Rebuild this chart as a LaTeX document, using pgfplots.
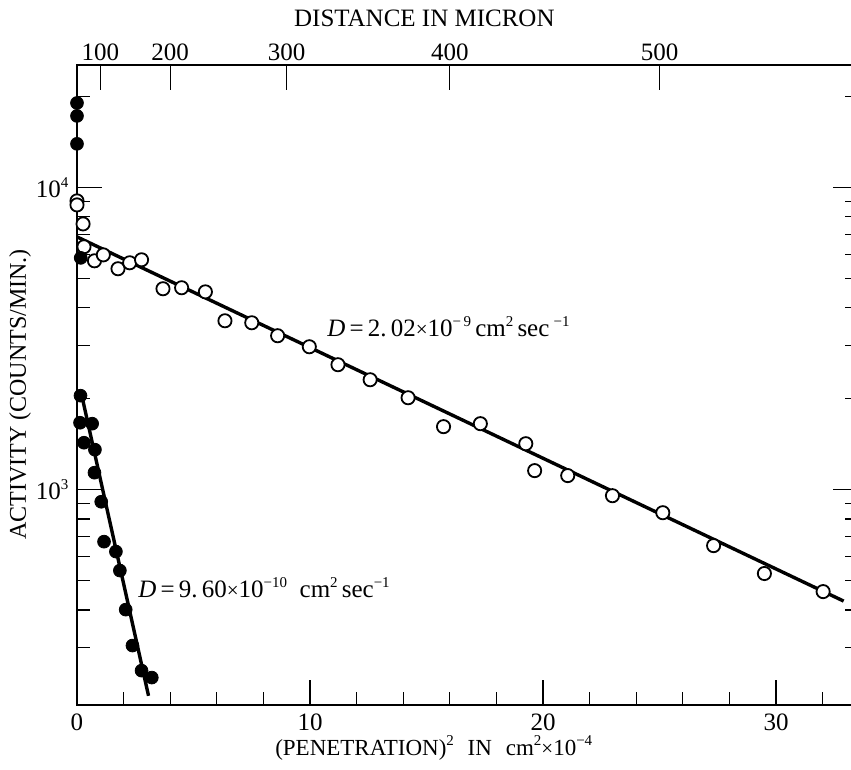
\documentclass[border=0pt]{standalone}
\usepackage{fontspec}
\setmainfont{Liberation Serif}
\usepackage{pgfplots}
\pgfplotsset{compat=1.18}
% small raised superscript, as in the printed figure
\newcommand\sx[1]{\raisebox{0.4em}{\fontsize{7.5}{8}\selectfont #1}}
\newcommand\tms{{\fontsize{10.5}{10}\selectfont ×}}

\begin{document}
\fontsize{12.5}{15}\selectfont
\begin{tikzpicture}
% main axis: penetration squared vs activity
\begin{axis}[at={(0,0)}, anchor=south west,
  scale only axis, width=390.3pt, height=320pt,
  xmin=0, xmax=33.5, ymode=log, ymin=194, ymax=25400,
  axis line style={line width=1pt},
  tick style={black, line width=0.6pt},
  tick align=inside,
  major tick length=12.5pt, minor tick length=6.5pt,
  clip=false,
  xtick={0,10,20,30}, xticklabels={0,10,20,30},
  minor xtick={2,4,6,8,12,14,16,18,22,24,26,28,32},
  xtick pos=left,
  ytick={1000,10000}, yticklabels={10\sx{3},10\sx{4}},
  minor ytick={300,400,500,600,700,800,900,2000,3000,4000,5000,6000,7000,8000,9000,20000},
  xlabel={\fontsize{11.5}{14}\selectfont (PENETRATION)\sx{2}\hspace{0.6em}IN\hspace{0.6em}cm\sx{2}\tms10\sx{−4}},
  xlabel style={at={(rel axis cs:0.457,0)}, anchor=center, yshift=-21.5pt},
  ylabel={\fontsize{12}{14}\selectfont ACTIVITY (COUNTS/MIN.)},
  ylabel style={at={(rel axis cs:0,0.485)}, anchor=center, yshift=28.5pt},
]
% fitted lines
\addplot[black, line width=1.7pt] coordinates {(0,6860) (32.9,428)};
\addplot[black, line width=1.7pt] coordinates {(0.15,2141) (3.07,208)};
% open circles
\addplot[only marks, mark=*, mark size=3.3pt, mark options={fill=white, draw=black, line width=0.9pt}]
coordinates {
(0.0,9020) (0.0,8750) (0.26,7570) (0.30,6360) (0.75,5715) (1.13,5980)
(1.76,5380) (2.26,5630) (2.77,5760) (3.69,4620) (4.49,4655) (5.51,4512)
(6.35,3620) (7.50,3565) (8.61,3230) (9.97,2970) (11.2,2590) (12.58,2310)
(14.21,2014) (15.73,1616) (17.31,1653) (19.26,1419) (19.64,1156) (21.06,1113)
(22.98,955) (25.14,839) (27.32,653) (29.50,528) (32.02,460)
};
% filled circles
\addplot[only marks, mark=*, mark size=3.2pt, mark options={fill=black, draw=black}]
coordinates {
(0,19020) (0,17230) (0,13930) (0.16,5845)
(0.15,2046) (0.13,1665) (0.65,1653) (0.30,1430) (0.77,1356) (0.75,1138)
(1.04,912) (1.16,673) (1.67,624) (1.84,540) (2.09,401) (2.38,305)
(2.77,252) (3.21,239)
};
\node[anchor=west, inner sep=0pt] at (axis cs:10.73,3460)
  {\textit{D}\,=\,2.\,02\tms10\sx{−\,9}\,cm\sx{2}\,sec\,\sx{−1}};
\node[anchor=west, inner sep=0pt] at (axis cs:2.62,474)
  {\textit{D}\,=\,9.\,60\tms10\sx{−10}\enspace cm\sx{2}\,sec\sx{−1}};
\end{axis}
% top axis: distance in micron
\begin{axis}[at={(0,0)}, anchor=south west,
  scale only axis, width=390.3pt, height=320pt,
  xmin=0, xmax=33.5, ymin=0, ymax=1,
  axis line style={line width=1pt},
  tick style={black, line width=0.6pt},
  tick align=inside, major tick length=12.5pt,
  axis x line*=top, axis y line=none,
  xtick={1,4,9,16,25}, xticklabels={100,200,300,400,500},
  xticklabel style={yshift=-2pt},
  xlabel={DISTANCE IN MICRON},
  xlabel style={at={(rel axis cs:0.445,1)}, anchor=center, yshift=23.5pt},
]
\addplot[draw=none] coordinates {(1,0.5)};
\end{axis}
\pgfresetboundingbox
\path[use as bounding box] (-38.5pt,-32.5pt) rectangle (387pt,352.5pt);
\end{tikzpicture}
\end{document}
